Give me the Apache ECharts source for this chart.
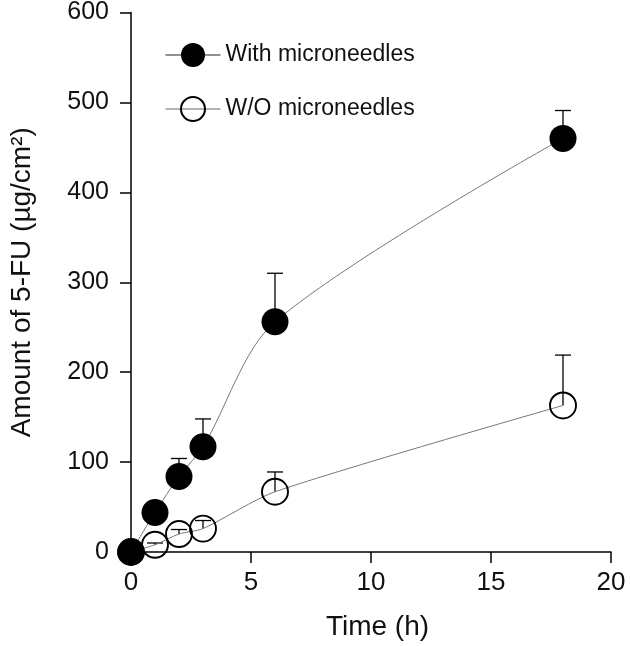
<!DOCTYPE html>
<html>
<head>
<meta charset="utf-8">
<script src="https://cdn.jsdelivr.net/npm/echarts@6/dist/echarts.min.js"></script>
<style>
  html, body { margin: 0; padding: 0; background: #fff; }
  #chart { width: 630px; height: 646px; }
</style>
</head>
<body>
<div id="chart"></div>
<script>
var timeH = [0, 1, 2, 3, 6, 18];
var withMN = [0, 44, 84, 117, 256, 460];
var withMNErr = [0, 8, 20, 31, 54, 31];
var withoutMN = [0, 8, 20, 26, 67, 163];
var withoutMNErr = [0, 2, 5, 9, 22, 56];
var xTicks = [0, 5, 10, 15, 20];
var yTicks = [0, 100, 200, 300, 400, 500, 600];
var seriesNames = ['With microneedles', 'W/O microneedles'];

var chart = echarts.init(document.getElementById('chart'));

function pairs(xs, ys) {
    var out = [];
    for (var i = 0; i < xs.length; i++) {
        out.push([xs[i], ys[i]]);
    }
    return out;
}
function triples(xs, ys, es) {
    var out = [];
    for (var i = 0; i < xs.length; i++) {
        out.push([xs[i], ys[i], es[i]]);
    }
    return out;
}

// error bar: stem from the mean up to mean+err, with a short cap
function renderErr(params, api) {
    var x = api.value(0), y = api.value(1), e = api.value(2);
    if (!e) return null;
    var base = api.coord([x, y]);
    var top = api.coord([x, y + e]);
    var st = { stroke: '#000', lineWidth: 1.3 };
    return {
        type: 'group',
        children: [
            { type: 'line', shape: { x1: base[0], y1: base[1], x2: top[0], y2: top[1] }, style: st },
            { type: 'line', shape: { x1: top[0] - 8, y1: top[1], x2: top[0] + 8, y2: top[1] }, style: st }
        ]
    };
}

var axisLine = { show: true, onZero: false, lineStyle: { color: '#000', width: 1.5 } };
var axisTick = { show: true, inside: false, length: 11, lineStyle: { color: '#000', width: 1.5 } };

chart.setOption({
    animation: false,
    textStyle: { fontFamily: 'Liberation Sans' },
    grid: { left: 124, right: 19, top: 12, bottom: 93, containLabel: false },
    legend: {
        orient: 'vertical',
        left: 160,
        top: 38,
        itemWidth: 55,
        itemHeight: 30,
        itemGap: 29,
        textStyle: { fontSize: 23, color: '#111', fontFamily: 'Liberation Sans' },
        data: [
            { name: seriesNames[0], lineStyle: { color: '#222', width: 1 } },
            { name: seriesNames[1], lineStyle: { color: '#666', width: 1 } }
        ]
    },
    xAxis: {
        type: 'value',
        min: xTicks[0],
        max: xTicks[xTicks.length - 1],
        interval: 5,
        name: 'Time (h)',
        nameLocation: 'middle',
        nameGap: 61,
        nameTextStyle: { fontSize: 28, color: '#111', padding: [0, 0, 0, 13] },
        axisLine: axisLine,
        axisTick: axisTick,
        splitLine: { show: false },
        axisLabel: { fontSize: 26, color: '#111', margin: 18 }
    },
    yAxis: {
        type: 'value',
        min: yTicks[0],
        max: yTicks[yTicks.length - 1],
        interval: 100,
        name: 'Amount of 5-FU (\u00b5g/cm\u00b2)',
        nameLocation: 'middle',
        nameGap: 95,
        nameTextStyle: { fontSize: 28, color: '#111' },
        axisLine: axisLine,
        axisTick: axisTick,
        splitLine: { show: false },
        axisLabel: { fontSize: 25, color: '#111', margin: 22 }
    },
    series: [
        {
            type: 'custom',
            name: 'errWith',
            renderItem: renderErr,
            data: triples(timeH, withMN, withMNErr),
            z: 1,
            silent: true
        },
        {
            type: 'custom',
            name: 'errWithout',
            renderItem: renderErr,
            data: triples(timeH, withoutMN, withoutMNErr),
            z: 1,
            silent: true
        },
        {
            name: seriesNames[1],
            type: 'line',
            data: pairs(timeH, withoutMN),
            smooth: 0.25,
            symbol: 'circle',
            symbolSize: 26,
            lineStyle: { color: '#777', width: 1 },
            itemStyle: { color: 'rgba(255,255,255,0)', borderColor: '#000', borderWidth: 1.9 },
            z: 3
        },
        {
            name: seriesNames[0],
            type: 'line',
            data: pairs(timeH, withMN),
            smooth: 0.3,
            symbol: 'circle',
            symbolSize: 27,
            lineStyle: { color: '#777', width: 1 },
            itemStyle: { color: '#000', borderColor: '#000', borderWidth: 0 },
            z: 4
        }
    ]
});
</script>
</body>
</html>
